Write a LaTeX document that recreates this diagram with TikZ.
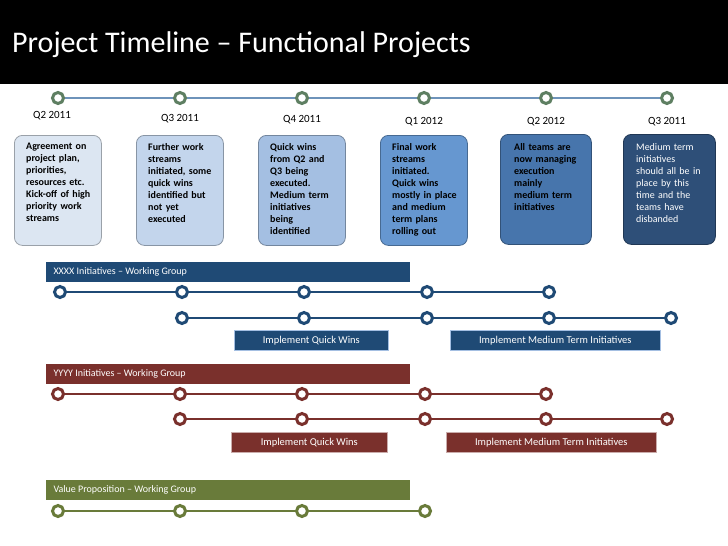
\documentclass[tikz,border=0pt]{standalone}
\usepackage{fontspec}
\setmainfont{Carlito}
\begin{document}
\begin{tikzpicture}[x=1pt,y=-1pt,
 dot/.style={circle,draw=#1,line width=3pt,fill=white,minimum size=11pt,inner sep=0pt},
 qbox/.style={draw=#1!70!black,line width=0.8pt,rounded corners=8pt,minimum width=87pt,minimum height=110pt,anchor=north west,align=left,inner sep=0pt},
 qtxt/.style={anchor=north west,align=left,font=\fontsize{10}{12}\selectfont\bfseries,text width=80pt,inner sep=0pt},
 bar/.style={fill=#1,anchor=north west,minimum height=20pt,inner sep=0pt},
 bartxt/.style={text=white,font=\fontsize{10}{11}\selectfont,anchor=west},
 itxt/.style={text=white,font=\fontsize{10.5}{11}\selectfont},
 qlab/.style={font=\fontsize{11}{12}\selectfont}]
\useasboundingbox (0,0) rectangle (728,546);
\fill[white] (0,0) rectangle (728,546);
\fill[black] (0,0) rectangle (728,84);
\node[anchor=west,text=white,font=\fontsize{30}{32}\selectfont,inner sep=0pt] (title) at (12,45) {Project Timeline – Functional Projects};
\definecolor{tl}{HTML}{6E93BA}\definecolor{tg}{HTML}{5E7F62}
\definecolor{c1}{HTML}{DCE6F2}\definecolor{c2}{HTML}{C3D5EC}\definecolor{c3}{HTML}{A4BFE2}
\definecolor{c4}{HTML}{6697D0}\definecolor{c5}{HTML}{4775AC}\definecolor{c6}{HTML}{2E4F78}
\definecolor{xb}{HTML}{1F4A75}\definecolor{yb}{HTML}{7A302C}\definecolor{vb}{HTML}{697B3A}
% top timeline
\foreach \i/\x in {1/58,2/180,3/302,4/424,5/546,6/667}{\coordinate (t\i) at (\x,98);}
\draw[tl,line width=2pt] (t1) -- (t6);
\foreach \i in {1,...,6}{\node[dot=tg] (T\i) at (t\i) {};}
\node[qlab] (q1) at (52,116) {Q2 2011};
\node[qlab] (q2) at (180,119) {Q3 2011};
\node[qlab] (q3) at (302,120) {Q4 2011};
\node[qlab] (q4) at (424,122) {Q1 2012};
\node[qlab] (q5) at (546,122) {Q2 2012};
\node[qlab] (q6) at (667,122) {Q3 2011};
\node[qbox=c1,fill=c1] (b1) at (14,135) {};
\node[qbox=c2,fill=c2] (b2) at (136,135) {};
\node[qbox=c3,fill=c3] (b3) at (258,135) {};
\node[qbox=c4,fill=c4] (b4) at (380,135) {};
\node[qbox=c5,fill=c5,minimum width=91pt] (b5) at (500,134) {};
\node[qbox=c6,fill=c6,minimum width=92pt] (b6) at (623,134) {};
\node[qtxt] (x1) at (26,143) {Agreement on\\project plan,\\priorities,\\resources etc.\\Kick-off of high\\priority work\\streams};
\node[qtxt] (x2) at (148,143) {Further work\\streams\\initiated, some\\quick wins\\identified but\\not yet\\executed};
\node[qtxt] (x3) at (270,143) {Quick wins\\from Q2 and\\Q3 being\\executed.\\Medium term\\initiatives\\being\\identified};
\node[qtxt] (x4) at (392,143) {Final work\\streams\\initiated.\\Quick wins\\mostly in place\\and medium\\term plans\\rolling out};
\node[qtxt] (x5) at (514,143) {All teams are\\now managing\\execution\\mainly\\medium term\\initiatives};
\node[qtxt,text=white,font=\fontsize{10}{12}\selectfont] (x6) at (636,143) {Medium term\\initiatives\\should all be in\\place by this\\time and the\\teams have\\disbanded};
% XXXX
\node[bar=xb,minimum width=364pt] (xbar) at (46,262) {};
\node[bartxt] (xbt) at (50,272) {XXXX Initiatives – Working Group};
\foreach \i/\x in {1/60,2/182,3/304,4/427,5/549}{\coordinate (xa\i) at (\x,292);}
\foreach \i/\x in {1/182,2/304,3/427,4/549,5/671}{\coordinate (xc\i) at (\x,318);}
\draw[xb,line width=2pt] (xa1) -- (xa5);
\draw[xb,line width=2pt] (xc1) -- (xc5);
\foreach \i in {1,...,5}{\node[dot=xb] (XA\i) at (xa\i) {};\node[dot=xb] (XC\i) at (xc\i) {};}
\node[bar=xb,minimum width=154pt,draw=c3,line width=0.6pt] (xq) at (234,330) {};
\node[itxt] (xqt) at (xq.center) {Implement Quick Wins};
\node[bar=xb,minimum width=210pt,draw=c3,line width=0.6pt] (xm) at (450,330) {};
\node[itxt] (xmt) at (xm.center) {Implement Medium Term Initiatives};
% YYYY
\node[bar=yb,minimum width=364pt] (ybar) at (46,364) {};
\node[bartxt] (ybt) at (50,374) {YYYY Initiatives – Working Group};
\foreach \i/\x in {1/58,2/180,3/302,4/425,5/546}{\coordinate (ya\i) at (\x,394);}
\foreach \i/\x in {1/180,2/302,3/425,4/546,5/667}{\coordinate (yc\i) at (\x,419);}
\draw[yb,line width=2pt] (ya1) -- (ya5);
\draw[yb,line width=2pt] (yc1) -- (yc5);
\foreach \i in {1,...,5}{\node[dot=yb] (YA\i) at (ya\i) {};\node[dot=yb] (YC\i) at (yc\i) {};}
\node[bar=yb,minimum width=156pt,draw=yb!40,line width=0.6pt] (yq) at (231,432) {};
\node[itxt] (yqt) at (yq.center) {Implement Quick Wins};
\node[bar=yb,minimum width=210pt,draw=yb!40,line width=0.6pt] (ym) at (446,432) {};
\node[itxt] (ymt) at (ym.center) {Implement Medium Term Initiatives};
% Value
\node[bar=vb,minimum width=364pt] (vbar) at (46,480) {};
\node[bartxt] (vbt) at (50,490) {Value Proposition – Working Group};
\foreach \i/\x in {1/58,2/180,3/302,4/425}{\coordinate (va\i) at (\x,511);}
\draw[vb,line width=2pt] (va1) -- (va4);
\foreach \i in {1,...,4}{\node[dot=vb] (VA\i) at (va\i) {};}
\end{tikzpicture}
\end{document}
